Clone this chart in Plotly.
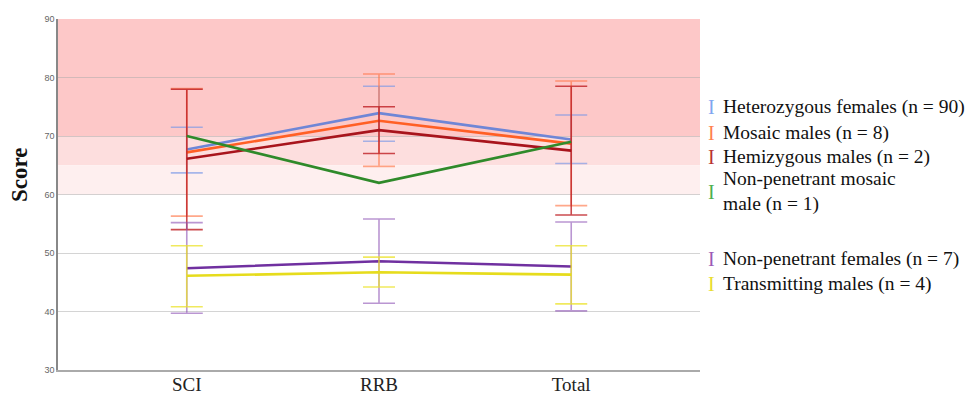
import plotly.graph_objects as go

categories = ["SCI", "RRB", "Total"]

series_names = [
    "Heterozygous females (n = 90)",
    "Mosaic males (n = 8)",
    "Hemizygous males (n = 2)",
    "Non-penetrant mosaic<br>male (n = 1)",
    "Non-penetrant females (n = 7)",
    "Transmitting males (n = 4)",
]

het_mean = [67.7, 73.9, 69.4]
het_low = [63.7, 69.1, 65.3]
het_high = [71.5, 78.5, 73.6]

mos_mean = [67.2, 72.6, 68.7]
mos_low = [56.3, 64.8, 58.1]
mos_high = [78.1, 80.6, 79.4]

hem_mean = [66.1, 71.0, 67.5]
hem_low = [54.0, 67.0, 56.5]
hem_high = [78.0, 75.0, 78.5]

npm_mean = [70.0, 62.0, 69.0]

npf_mean = [47.4, 48.6, 47.7]
npf_low = [39.7, 41.4, 40.1]
npf_high = [55.2, 55.8, 55.3]

tm_mean = [46.1, 46.7, 46.3]
tm_low = [40.8, 44.2, 41.3]
tm_high = [51.25, 49.3, 51.25]

line_colors = ["#6f86d6", "#ff5f25", "#a8141c", "#2f8a2a", "#7030a0", "#e6dc1c"]
bar_colors = ["rgba(120,150,230,0.65)", "rgba(255,110,60,0.6)", "rgba(190,30,35,0.8)",
              "rgba(60,150,50,0.7)", "rgba(140,80,180,0.6)", "rgba(235,225,40,0.75)"]
icon_colors = ["#7fa6f0", "#ff7f50", "#b83232", "#4caf50", "#9b59b6", "#e8dc30"]

means = [het_mean, mos_mean, hem_mean, npm_mean, npf_mean, tm_mean]
lows = [het_low, mos_low, hem_low, None, npf_low, tm_low]
highs = [het_high, mos_high, hem_high, None, npf_high, tm_high]

# clinical bands (score ranges)
band_ranges = [(70, 90), (65, 70), (60, 65)]
band_colors = ["rgb(253,200,200)", "rgb(253,222,222)", "rgb(254,239,239)"]

# legend vertical positions (paper)
legend_y = [0.75, 0.675, 0.607, 0.508, 0.317, 0.245]

SERIF = "Liberation Serif, Times New Roman, serif"

fig = go.Figure()

for i, name in enumerate(series_names):
    m = means[i]
    err = None
    if lows[i] is not None:
        err = dict(
            type="data", symmetric=False,
            array=[h - v for h, v in zip(highs[i], m)],
            arrayminus=[v - l for v, l in zip(m, lows[i])],
            color=bar_colors[i], thickness=1.6, width=16,
        )
    fig.add_trace(go.Scatter(
        x=categories, y=m, mode="lines", name=name,
        line=dict(color=line_colors[i], width=2.6),
        error_y=err, showlegend=False,
    ))

for (lo, hi), c in zip(band_ranges, band_colors):
    fig.add_shape(type="rect", xref="paper", yref="y", x0=0, x1=1, y0=lo, y1=hi,
                  fillcolor=c, line_width=0, layer="below")

for i, name in enumerate(series_names):
    fig.add_annotation(xref="paper", yref="paper", x=1.009, y=legend_y[i],
                       text="I", showarrow=False, xanchor="left", yanchor="middle",
                       font=dict(family=SERIF, size=20, color=icon_colors[i]))
    fig.add_annotation(xref="paper", yref="paper", x=1.0325, y=legend_y[i],
                       text=name, showarrow=False, xanchor="left", yanchor="middle",
                       align="left",
                       font=dict(family=SERIF, size=19.5, color="#111111"))

fig.add_annotation(xref="paper", yref="paper", x=-0.06, y=0.557,
                   text="<b>Score</b>", textangle=-90, showarrow=False,
                   xanchor="center", yanchor="middle",
                   font=dict(family=SERIF, size=23, color="#111111"))

fig.update_layout(
    width=972, height=396,
    margin=dict(l=58, r=272, t=19, b=26),
    plot_bgcolor="white", paper_bgcolor="white",
    showlegend=False,
    font=dict(family=SERIF),
    xaxis=dict(
        type="category", range=[-0.67, 2.67], automargin=False,
        showgrid=False, showline=True, linecolor="#aaaaaa", linewidth=1.5,
        tickfont=dict(family=SERIF, size=19, color="#222222"),
        ticks="", zeroline=False, ticklabelstandoff=-4,
    ),
    yaxis=dict(
        range=[30, 90], tickvals=[30, 40, 50, 60, 70, 80, 90], automargin=False,
        showgrid=True, gridcolor="rgba(170,170,170,0.5)", gridwidth=1,
        showline=True, linecolor="#888888", linewidth=1.5,
        tickfont=dict(family="Liberation Sans", size=9, color="#666666"),
        ticks="", zeroline=False,
    ),
)

fig.write_html("out.html")
